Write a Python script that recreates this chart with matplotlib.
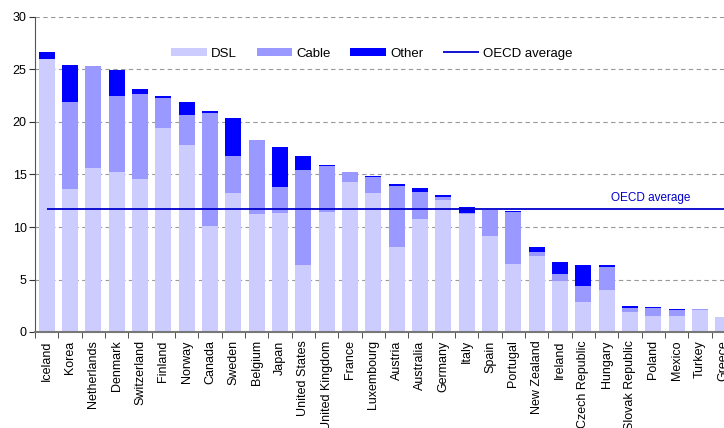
import matplotlib
matplotlib.use("Agg")
import matplotlib.pyplot as plt
import numpy as np

plt.rcParams["font.family"] = ["Liberation Sans", "DejaVu Sans"]

countries = ["Iceland", "Korea", "Netherlands", "Denmark", "Switzerland", "Finland",
             "Norway", "Canada", "Sweden", "Belgium", "Japan", "United States",
             "United Kingdom", "France", "Luxembourg", "Austria", "Australia", "Germany",
             "Italy", "Spain", "Portugal", "New Zealand", "Ireland", "Czech Republic",
             "Hungary", "Slovak Republic", "Poland", "Mexico", "Turkey", "Greece"]
dsl = [26.0, 13.6, 15.6, 15.2, 14.6, 19.4, 17.8, 10.1, 13.2, 11.2, 11.3, 6.4,
       11.4, 14.3, 13.2, 8.1, 10.8, 12.6, 11.2, 9.1, 6.5, 7.2, 4.9, 2.9,
       4.0, 1.9, 1.5, 1.5, 2.1, 1.4]
cable = [0.0, 8.3, 9.7, 7.3, 8.1, 2.9, 2.9, 10.8, 3.6, 7.1, 2.5, 9.0,
         4.4, 0.9, 1.6, 5.8, 2.5, 0.3, 0.1, 2.5, 4.9, 0.4, 0.6, 1.5,
         2.2, 0.4, 0.8, 0.6, 0.1, 0.0]
other = [0.7, 3.5, 0.0, 2.5, 0.4, 0.2, 1.2, 0.1, 3.6, 0.0, 3.8, 1.4,
         0.1, 0.0, 0.1, 0.2, 0.4, 0.1, 0.6, 0.0, 0.1, 0.5, 1.2, 2.0,
         0.2, 0.2, 0.1, 0.1, 0.0, 0.0]
oecd_avg = 11.7

x = np.arange(len(countries))
dsl = np.array(dsl)
cable = np.array(cable)
other = np.array(other)

fig = plt.figure(figsize=(7.24, 4.28), dpi=100)
ax = fig.add_axes([35 / 724, 96 / 428, 700 / 724, 315 / 428])

w = 0.69
b1 = ax.bar(x, dsl, w, color="#CCCCFF", label="DSL", zorder=2)
b2 = ax.bar(x, cable, w, bottom=dsl, color="#9999FF", label="Cable", zorder=2)
b3 = ax.bar(x, other, w, bottom=dsl + cable, color="#0000FF", label="Other", zorder=2)
avg = ax.hlines(oecd_avg, 0, len(countries) - 0.5, color="#0000CC", lw=1.3,
                label="OECD average", zorder=3)
ax.text(25.9, oecd_avg + 0.5, "OECD average", color="#0000CC", fontsize=8.5,
        ha="center", va="bottom")

ax.set_xlim(-0.5, len(countries) - 0.5)
ax.set_ylim(0, 30)
ax.set_yticks(range(0, 31, 5))
ax.yaxis.grid(True, linestyle=(0, (4, 3)), color="#999999", lw=0.8, zorder=0)
ax.set_axisbelow(True)

ax.set_xticks(x)
ax.set_xticklabels(countries, rotation=90, fontsize=9)
ax.set_xticks(np.arange(-0.5, len(countries)), minor=True)
ax.tick_params(axis="x", which="major", length=0, pad=6)
ax.tick_params(axis="x", which="minor", length=4, color="#333333", direction="out")
ax.tick_params(axis="y", labelsize=9, length=4, color="#333333", pad=2)

for s in ["top", "right"]:
    ax.spines[s].set_visible(False)
ax.spines["left"].set_color("#555555")
ax.spines["bottom"].set_color("#777777")
ax.spines["bottom"].set_linewidth(1.5)

ax.legend([b1, b2, b3, avg], ["DSL", "Cable", "Other", "OECD average"],
          loc="upper left", bbox_to_anchor=(0.178, 0.94), ncol=4, frameon=False,
          fontsize=9.5, handlelength=2.7, handleheight=0.6, columnspacing=1.5,
          handletextpad=0.3)

fig.savefig("out.png", dpi=100)
